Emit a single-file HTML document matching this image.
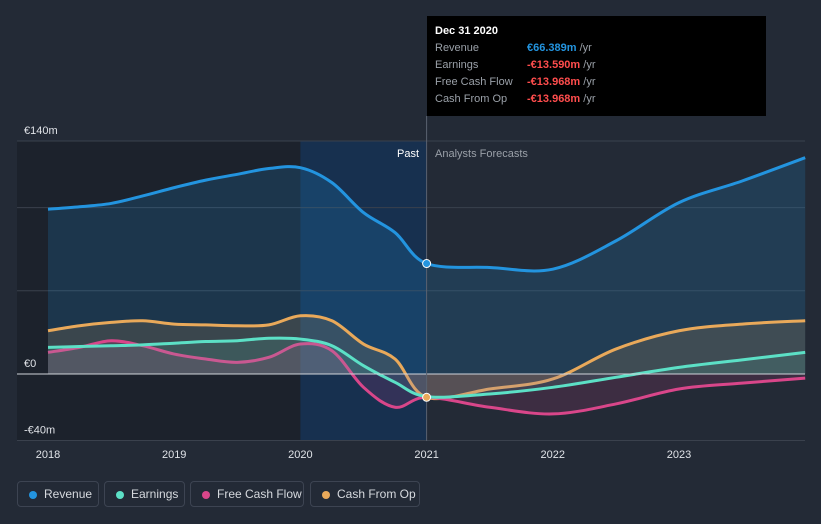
<!DOCTYPE html>
<html><head><meta charset="utf-8"><style>
body{margin:0;background:#232a36;font-family:"Liberation Sans",sans-serif;}
svg{display:block}
.leg{position:absolute;top:481px;height:26px;border:1px solid #3d4452;border-radius:4px;color:#d6d9de;font-size:12px;line-height:24px;padding:0 0 0 26px;box-sizing:border-box;white-space:nowrap}
.leg i{position:absolute;left:11px;top:9px;width:8px;height:8px;border-radius:50%}
</style></head><body>
<div style="position:relative;width:821px;height:524px;overflow:hidden">
<svg id="c" width="821" height="524"></svg>
<div class="leg" style="left:17px;width:82px"><i style="background:#2394df"></i>Revenue</div>
<div class="leg" style="left:104px;width:81px"><i style="background:#5ce0c6"></i>Earnings</div>
<div class="leg" style="left:190px;width:114px"><i style="background:#d9468a"></i>Free Cash Flow</div>
<div class="leg" style="left:310px;width:110px"><i style="background:#e9a95a"></i>Cash From Op</div>
<div style="position:absolute;left:427px;top:16px;width:339px;height:100px;background:#000;color:#9aa0a8;font-size:11px">
<div style="position:absolute;left:8px;top:9px;color:#fff;font-weight:bold">Dec 31 2020</div>
<div style="position:absolute;left:8px;top:26px">Revenue</div><div style="position:absolute;left:100px;top:26px"><b style="color:#2394df">€66.389m</b> /yr</div>
<div style="position:absolute;left:8px;top:43px">Earnings</div><div style="position:absolute;left:100px;top:43px"><b style="color:#ff4d4d">-€13.590m</b> /yr</div>
<div style="position:absolute;left:8px;top:60px">Free Cash Flow</div><div style="position:absolute;left:100px;top:60px"><b style="color:#ff4d4d">-€13.968m</b> /yr</div>
<div style="position:absolute;left:8px;top:77px">Cash From Op</div><div style="position:absolute;left:100px;top:77px"><b style="color:#ff4d4d">-€13.968m</b> /yr</div>
</div>
</div>
<script>
const xs=[2018,2018.25,2018.5,2018.75,2019,2019.25,2019.5,2019.75,2020,2020.25,2020.5,2020.75,2021,2021.5,2022,2022.5,2023,2023.5,2024];
const revenue=[99,100.5,102.5,107,112,116.5,120,123.5,124,115,97,85,66.4,64,63,80,103,116,130];
const earnings=[16,16.5,17,17.5,18.5,19.5,20,21.5,21,17,5,-5,-13.6,-12,-8,-2,4,8.5,13];
const fcf=[13,16,20,17,12,9,7,10,18,14,-8,-20,-14,-20,-24,-18,-9,-5.5,-2.5];
const cfo=[26,29,31,32,30,29.5,29,29.5,35,32,18,9,-14,-9,-3,15,26,30,32];
const yTicks=[140,0,-40];const yLabels=["€140m","€0","-€40m"];
const xTicks=[2018,2019,2020,2021,2022,2023];
const X=v=>48+(v-2018)*126.2, Y=v=>374-v*1.664;
const svg=document.getElementById('c');const NS='http://www.w3.org/2000/svg';
function el(t,a,p){const e=document.createElementNS(NS,t);for(const k in a)e.setAttribute(k,a[k]);(p||svg).appendChild(e);return e;}
let r=el('rect',{x:17,y:141,width:410,height:300,fill:'#1c222c'});


r=el('rect',{x:X(2020),y:141,width:X(2021)-X(2020),height:300,fill:'#17304f'});


[140,100,50,-40].forEach(v=>{const g=el('line',{x1:17,x2:805,y1:Y(v),y2:Y(v),stroke:'#3a414d','stroke-width':1});

});
function path(vals){const p=xs.map((x,i)=>[X(x),Y(vals[i])]);let d=`M${p[0][0]},${p[0][1]}`;
for(let i=0;i<p.length-1;i++){const a=p[Math.max(0,i-1)],b=p[i],c=p[i+1],e=p[Math.min(p.length-1,i+2)];
d+=` C${b[0]+(c[0]-a[0])/6},${b[1]+(c[1]-a[1])/6} ${c[0]-(e[0]-b[0])/6},${c[1]-(e[1]-b[1])/6} ${c[0]},${c[1]}`;}return d;}
const series=[[revenue,'#2394df','revenue',0.18],[cfo,'#e9a95a','cash-from-op',0.15],[fcf,'#d9468a','free-cash-flow',0.15],[earnings,'#5ce0c6','earnings',0.12]];
series.forEach(([v,c,n,o])=>{const d=path(v);
const a=el('path',{d:d+` L${X(2024)},${Y(0)} L${X(2018)},${Y(0)} Z`,fill:c,'fill-opacity':o});


const l=el('path',{d,fill:'none',stroke:c,'stroke-width':3});

});
let z=el('line',{x1:17,x2:805,y1:Y(0),y2:Y(0),stroke:'#d0d4da','stroke-width':1});


z=el('line',{x1:X(2021),x2:X(2021),y1:116,y2:441,stroke:'#5a6270','stroke-width':1});


[[revenue,'#2394df'],[cfo,'#e9a95a']].forEach(([v,c])=>{const d=el('circle',{cx:X(2021),cy:Y(v[12]),r:4,fill:c,stroke:'#fff','stroke-width':1});

});
yTicks.forEach((v,i)=>{const t=el('text',{x:24,y:Y(v)-7,fill:'#e0e3e8','font-size':11});t.textContent=yLabels[i];

});
xTicks.forEach(v=>{const t=el('text',{x:X(v),y:458,fill:'#e0e3e8','font-size':11,'text-anchor':'middle'});t.textContent=v;

});
let t=el('text',{x:419,y:157,fill:'#fff','font-size':11,'text-anchor':'end'});t.textContent='Past';


t=el('text',{x:435,y:157,fill:'#9aa0a8','font-size':11});t.textContent='Analysts Forecasts';


</script>
</body></html>
